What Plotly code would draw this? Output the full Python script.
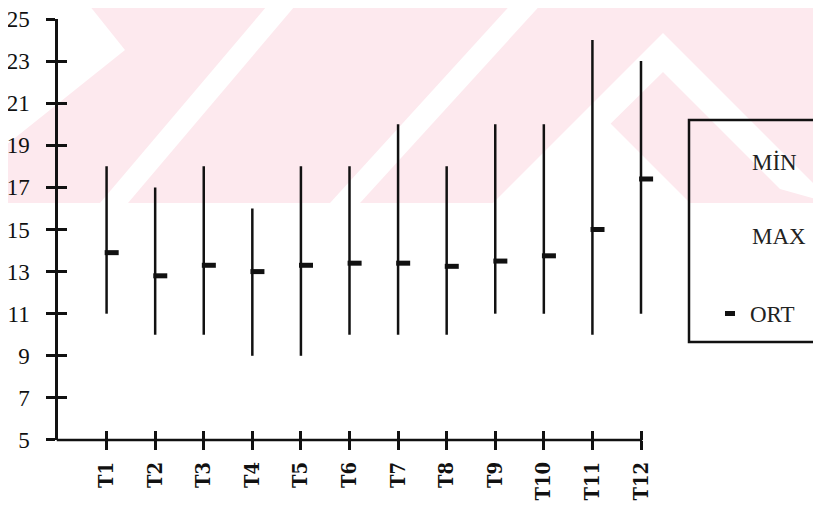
import plotly.graph_objects as go

# ---------------- data ----------------
categories = ["T1", "T2", "T3", "T4", "T5", "T6", "T7", "T8", "T9", "T10", "T11", "T12"]
min_vals = [11, 10, 10, 9, 9, 10, 10, 10, 11, 11, 10, 11]
max_vals = [18, 17, 18, 16, 18, 18, 20, 18, 20, 20, 24, 23]
ort_vals = [13.9, 12.8, 13.3, 13.0, 13.3, 13.4, 13.4, 13.25, 13.5, 13.75, 15.0, 17.4]
y_ticks = [5, 7, 9, 11, 13, 15, 17, 19, 21, 23, 25]
legend_labels = ["MİN", "MAX", "ORT"]

# the page body has an 8px margin, so the figure is drawn at (8, 8)
OFF = 8
W, H = 821 - OFF, 508 - OFF
positions = list(range(1, len(categories) + 1))
n_cat = len(categories)

# vertical min-max segments
seg_x, seg_y = [], []
for p, lo, hi in zip(positions, min_vals, max_vals):
    seg_x += [p, p, None]
    seg_y += [lo, hi, None]

fig = go.Figure()
fig.add_trace(go.Scatter(x=seg_x, y=seg_y, mode="lines", cliponaxis=False,
                         line=dict(color="#111111", width=2.5),
                         showlegend=False, hoverinfo="skip"))
# mean markers: short dash attached to right side of each line
mark_offset = 0.105
fig.add_trace(go.Scatter(x=[p + mark_offset for p in positions], y=ort_vals,
                         mode="markers", cliponaxis=False,
                         marker=dict(symbol="line-ew", size=10,
                                     line=dict(color="#111111", width=5)),
                         showlegend=False, hoverinfo="skip"))

# ---------------- layout ----------------
def px(x):
    return (x - OFF) / W

def py(y):
    return 1 - (y - OFF) / H

x_extra = 0.4                       # room so the last line is not clipped
unit = (641 - 58) / n_cat           # pixels per category step
x_dom = [px(58), px(58 + unit * (n_cat + x_extra))]
y_dom = [py(440), py(19)]
y_rng = [y_ticks[0] - 0.001, y_ticks[-1] + 0.001]

serif = "Liberation Serif, Times New Roman, serif"
xfont = "DejaVu Serif Condensed, DejaVu Serif, serif"

axis_common = dict(showgrid=False, zeroline=False, linecolor="#111111",
                   linewidth=2.5, tickcolor="#111111", tickwidth=2.5,
                   ticklen=9, automargin=False, ticklabeloverflow="allow")

fig.update_layout(
    width=W, height=H,
    margin=dict(l=0, r=0, t=0, b=0),
    paper_bgcolor="white", plot_bgcolor="rgba(0,0,0,0)",
    showlegend=False,
    xaxis=dict(domain=x_dom, range=[0, n_cat + x_extra], tickmode="array",
               tickvals=positions, ticktext=categories, tickangle=-90,
               ticks="outside", showline=False,
               tickfont=dict(family=xfont, size=20, color="#111111", weight="bold"),
               ticklabelstandoff=4, **axis_common),
    yaxis=dict(domain=y_dom, range=y_rng, tickmode="array",
               tickvals=y_ticks, ticks="outside", showline=True,
               tickfont=dict(family=serif, size=23, color="#111111"),
               ticklabelstandoff=12, **axis_common),
    xaxis2=dict(domain=x_dom, range=[0, n_cat + x_extra], overlaying="x", anchor="y2",
                tickmode="array", tickvals=positions, ticks="inside",
                showticklabels=False, showline=False, **axis_common),
    yaxis2=dict(domain=y_dom, range=y_rng, overlaying="y", anchor="x2",
                tickmode="array", tickvals=y_ticks, ticks="inside",
                showticklabels=False, showline=False, **axis_common),
)
# dummy trace to activate the overlay axes (for crossing ticks)
fig.add_trace(go.Scatter(x=[None], y=[None], xaxis="x2", yaxis="y2",
                         showlegend=False, hoverinfo="skip"))

# ---------------- background watermark (pale pink) ----------------
pink = "rgb(253,233,238)"

def poly_path(pts):
    return "M " + " L ".join(f"{px(x):.5f},{py(y):.5f}" for x, y in pts) + " Z"

shapes = [dict(type="rect", xref="paper", yref="paper", x0=px(0), x1=px(830),
               y0=py(203), y1=py(0), fillcolor=pink, line=dict(width=0), layer="below")]
white_polys = [
    [(0, 0), (85, 0), (125, 50), (0, 150)],
    [(158, 0), (185, 0), (172, 6)],
    [(100, 203), (128, 203), (300, 0), (272, 0)],
    [(330, 203), (360, 203), (545, 0), (515, 0)],
    [(663, 33), (493, 203), (530, 203), (663, 72), (780, 189), (830, 203), (830, 200)],
    [(597, 110), (504, 203), (690, 203)],
]
for poly in white_polys:
    shapes.append(dict(type="path", xref="paper", yref="paper", path=poly_path(poly),
                       fillcolor="white", line=dict(width=0), layer="below"))

# x axis baseline: from the y axis to the last category only
x_end = x_dom[0] + (x_dom[1] - x_dom[0]) * n_cat / (n_cat + x_extra)
shapes.append(dict(type="line", xref="paper", yref="paper",
                   x0=x_dom[0] - 1.25 / W, x1=x_end + 1.25 / W, y0=y_dom[0], y1=y_dom[0],
                   line=dict(color="#111111", width=2.5)))

# legend box
shapes.append(dict(type="rect", xref="paper", yref="paper",
                   x0=px(689), x1=px(835), y0=py(342), y1=py(120),
                   line=dict(color="#111111", width=2.5), fillcolor="rgba(0,0,0,0)"))
# ORT legend dash
shapes.append(dict(type="rect", xref="paper", yref="paper",
                   x0=px(725), x1=px(735), y0=py(316), y1=py(311),
                   line=dict(width=0), fillcolor="#111111"))
fig.update_layout(shapes=shapes)

legend_y = [162, 237, 314]
legend_x = [750, 750, 748]
for lab, lx, ly in zip(legend_labels, legend_x, legend_y):
    fig.add_annotation(x=px(lx), y=py(ly), xref="paper", yref="paper",
                       text=lab, showarrow=False, xanchor="left", yanchor="middle",
                       font=dict(family=serif, size=23, color="#222222"))

fig.write_html("out.html")
